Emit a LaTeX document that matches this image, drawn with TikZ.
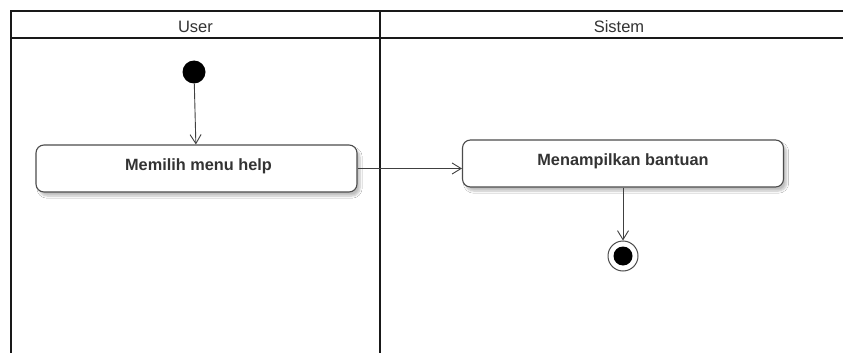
\documentclass[tikz,border=0pt]{standalone}
\usepackage{fontspec}
\setmainfont{Liberation Sans}
\usetikzlibrary{arrows.meta,shadows.blur}
\begin{document}
\begin{tikzpicture}[x=1pt,y=-1pt,
  lane/.style={line width=2pt,draw=black!90},
  lanetitle/.style={font=\fontsize{16.5}{18}\selectfont,text=black!80,anchor=base,inner sep=0pt},
  action/.style={draw=black!70,line width=1.1pt,rounded corners=8pt,fill=white,
    minimum width=321pt,minimum height=47pt,inner sep=0pt,
    blur shadow={shadow xshift=3pt,shadow yshift=-4pt,shadow blur steps=6,shadow opacity=25}},
  actlabel/.style={font=\bfseries\fontsize{16.3}{18}\selectfont,text=black!80,anchor=base,inner sep=0pt},
  flow/.style={draw=black!75,line width=0.9pt,-{Straight Barb[length=9pt,width=11pt,line width=0.9pt]}},
  startnode/.style={circle,fill=black,minimum size=23pt,inner sep=0pt},
  endring/.style={circle,draw=black!70,line width=1pt,fill=white,minimum size=30pt,inner sep=0pt},
  enddot/.style={circle,fill=black,minimum size=19pt,inner sep=0pt}]
\useasboundingbox (0,0) rectangle (843,353);
\fill[white] (0,0) rectangle (843,353);

% swimlane frame
\draw[lane] (11,353) -- (11,11) -- (843,11);
\draw[lane] (11,38) -- (843,38);
\draw[lane] (380,11) -- (380,353);
\node[lanetitle] (userlane) at (195.5,32.5) {User};
\node[lanetitle] (syslane) at (619,32.5) {Sistem};

% activities
\node[startnode] (start) at (194,72) {};
\node[action] (pilih) at (196.5,168.5) {};
\node[actlabel] (pilihlbl) at (198.5,170.5) {Memilih menu help};
\node[action] (tampil) at (623,163.5) {};
\node[actlabel] (tampillbl) at (623,165.5) {Menampilkan bantuan};
\node[endring] (end) at (623,256) {};
\node[enddot] (enddot) at (end.center) {};

% transitions
\draw[flow] (start) -- (pilih);
\draw[flow] (pilih.east) -- (tampil.west |- pilih.east);
\draw[flow] (tampil) -- (end);
\end{tikzpicture}
\end{document}
